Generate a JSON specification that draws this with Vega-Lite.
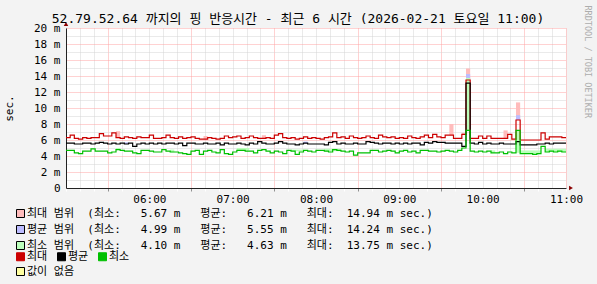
{
  "$schema": "https://vega.github.io/schema/vega-lite/v6.json",
  "width": 500,
  "height": 160,
  "autosize": "none",
  "padding": {"left": 66, "top": 28, "right": 31, "bottom": 96},
  "background": "#F3F3F3",
  "view": {"fill": "#FFFFFF", "stroke": null},
  "config": {"font": "DejaVu Sans Mono, Noto Sans CJK KR"},
  "title": {
    "text": "52.79.52.64 까지의 핑 반응시간 - 최근 6 시간 (2026-02-21 토요일 11:00)",
    "fontSize": 13,
    "fontWeight": "normal",
    "color": "#000000",
    "anchor": "middle",
    "dx": -18,
    "dy": 21,
    "offset": 0
  },
  "datasets": {
    "ping": [
      {"t":"2026-02-21T05:00:00Z","mx":6.3,"av":5.6,"mn":4.7},
      {"t":"2026-02-21T05:03:00Z","mx":6.6,"av":5.6,"mn":4.7},
      {"t":"2026-02-21T05:06:00Z","mx":6.2,"av":5.5,"mn":4.4},
      {"t":"2026-02-21T05:09:00Z","mx":6.1,"av":5.5,"mn":4.3},
      {"t":"2026-02-21T05:12:00Z","mx":6.3,"av":5.6,"mn":4.6},
      {"t":"2026-02-21T05:15:00Z","mx":6.2,"av":5.6,"mn":4.6},
      {"t":"2026-02-21T05:18:00Z","mx":6.3,"av":5.5,"mn":4.9},
      {"t":"2026-02-21T05:21:00Z","mx":6.3,"av":5.6,"mn":4.6},
      {"t":"2026-02-21T05:24:00Z","mx":6.8,"av":5.7,"mn":4.6},
      {"t":"2026-02-21T05:27:00Z","mx":6.5,"av":5.6,"mn":4.6},
      {"t":"2026-02-21T05:30:00Z","mx":6.5,"av":5.5,"mn":4.4},
      {"t":"2026-02-21T05:33:00Z","mx":6.9,"av":5.6,"mn":4.5},
      {"t":"2026-02-21T05:36:00Z","mx":6.3,"av":5.5,"mn":4.8},
      {"t":"2026-02-21T05:39:00Z","mx":6.2,"av":5.6,"mn":4.7},
      {"t":"2026-02-21T05:42:00Z","mx":6.4,"av":5.5,"mn":4.6},
      {"t":"2026-02-21T05:45:00Z","mx":6.3,"av":5.6,"mn":4.6},
      {"t":"2026-02-21T05:48:00Z","mx":6.2,"av":5.2,"mn":4.4},
      {"t":"2026-02-21T05:51:00Z","mx":6.4,"av":5.5,"mn":4.3},
      {"t":"2026-02-21T05:54:00Z","mx":6.3,"av":5.6,"mn":4.7},
      {"t":"2026-02-21T05:57:00Z","mx":6.3,"av":5.5,"mn":4.7},
      {"t":"2026-02-21T06:00:00Z","mx":6.6,"av":5.6,"mn":4.6},
      {"t":"2026-02-21T06:03:00Z","mx":6.2,"av":5.5,"mn":4.5},
      {"t":"2026-02-21T06:06:00Z","mx":6.2,"av":5.6,"mn":4.5},
      {"t":"2026-02-21T06:09:00Z","mx":6.3,"av":5.5,"mn":4.8},
      {"t":"2026-02-21T06:12:00Z","mx":6.6,"av":5.6,"mn":4.6},
      {"t":"2026-02-21T06:15:00Z","mx":6.3,"av":5.6,"mn":4.5},
      {"t":"2026-02-21T06:18:00Z","mx":6.2,"av":5.5,"mn":4.5},
      {"t":"2026-02-21T06:21:00Z","mx":6.4,"av":5.6,"mn":4.4},
      {"t":"2026-02-21T06:24:00Z","mx":6.2,"av":5.3,"mn":4.3},
      {"t":"2026-02-21T06:27:00Z","mx":6.3,"av":5.6,"mn":4.2},
      {"t":"2026-02-21T06:30:00Z","mx":6.4,"av":5.6,"mn":4.6},
      {"t":"2026-02-21T06:33:00Z","mx":6.2,"av":5.5,"mn":4.7},
      {"t":"2026-02-21T06:36:00Z","mx":6.1,"av":5.5,"mn":4.2},
      {"t":"2026-02-21T06:39:00Z","mx":6.1,"av":5.6,"mn":4.6},
      {"t":"2026-02-21T06:42:00Z","mx":6.3,"av":5.5,"mn":4.7},
      {"t":"2026-02-21T06:45:00Z","mx":6.2,"av":5.5,"mn":4.5},
      {"t":"2026-02-21T06:48:00Z","mx":6.1,"av":5.6,"mn":4.4},
      {"t":"2026-02-21T06:51:00Z","mx":6.2,"av":5.4,"mn":4.8},
      {"t":"2026-02-21T06:54:00Z","mx":6.5,"av":5.6,"mn":4.3},
      {"t":"2026-02-21T06:57:00Z","mx":6.3,"av":5.5,"mn":4.2},
      {"t":"2026-02-21T07:00:00Z","mx":6.4,"av":5.5,"mn":4.5},
      {"t":"2026-02-21T07:03:00Z","mx":6.5,"av":5.6,"mn":4.7},
      {"t":"2026-02-21T07:06:00Z","mx":6.2,"av":5.5,"mn":4.7},
      {"t":"2026-02-21T07:09:00Z","mx":6.3,"av":5.4,"mn":4.6},
      {"t":"2026-02-21T07:12:00Z","mx":6.5,"av":5.6,"mn":4.6},
      {"t":"2026-02-21T07:15:00Z","mx":6.3,"av":5.5,"mn":4.4},
      {"t":"2026-02-21T07:18:00Z","mx":6.2,"av":5.8,"mn":4.7},
      {"t":"2026-02-21T07:21:00Z","mx":6.2,"av":5.6,"mn":4.8},
      {"t":"2026-02-21T07:24:00Z","mx":6.3,"av":5.5,"mn":4.6},
      {"t":"2026-02-21T07:27:00Z","mx":6.2,"av":5.5,"mn":4.4},
      {"t":"2026-02-21T07:30:00Z","mx":6.6,"av":5.6,"mn":4.6},
      {"t":"2026-02-21T07:33:00Z","mx":6.8,"av":5.8,"mn":4.5},
      {"t":"2026-02-21T07:36:00Z","mx":6.3,"av":5.6,"mn":4.3},
      {"t":"2026-02-21T07:39:00Z","mx":6.2,"av":5.5,"mn":4.7},
      {"t":"2026-02-21T07:42:00Z","mx":6.3,"av":5.5,"mn":4.6},
      {"t":"2026-02-21T07:45:00Z","mx":6.1,"av":5.4,"mn":4.2},
      {"t":"2026-02-21T07:48:00Z","mx":6.2,"av":5.5,"mn":4.5},
      {"t":"2026-02-21T07:51:00Z","mx":6.4,"av":5.6,"mn":4.7},
      {"t":"2026-02-21T07:54:00Z","mx":6.2,"av":5.5,"mn":4.6},
      {"t":"2026-02-21T07:57:00Z","mx":6.3,"av":5.5,"mn":4.5},
      {"t":"2026-02-21T08:00:00Z","mx":6.2,"av":5.5,"mn":4.7},
      {"t":"2026-02-21T08:03:00Z","mx":6.1,"av":5.5,"mn":4.7},
      {"t":"2026-02-21T08:06:00Z","mx":6.3,"av":5.4,"mn":4.6},
      {"t":"2026-02-21T08:09:00Z","mx":6.4,"av":5.7,"mn":4.5},
      {"t":"2026-02-21T08:12:00Z","mx":6.9,"av":5.8,"mn":4.8},
      {"t":"2026-02-21T08:15:00Z","mx":6.3,"av":5.5,"mn":4.7},
      {"t":"2026-02-21T08:18:00Z","mx":6.4,"av":5.6,"mn":4.6},
      {"t":"2026-02-21T08:21:00Z","mx":6.2,"av":5.5,"mn":4.5},
      {"t":"2026-02-21T08:24:00Z","mx":6.5,"av":5.5,"mn":4.6},
      {"t":"2026-02-21T08:27:00Z","mx":6.3,"av":5.6,"mn":4.1},
      {"t":"2026-02-21T08:30:00Z","mx":6.2,"av":5.5,"mn":4.4},
      {"t":"2026-02-21T08:33:00Z","mx":6.3,"av":5.5,"mn":4.4},
      {"t":"2026-02-21T08:36:00Z","mx":6.5,"av":5.8,"mn":4.4},
      {"t":"2026-02-21T08:39:00Z","mx":6.3,"av":5.7,"mn":4.7},
      {"t":"2026-02-21T08:42:00Z","mx":6.2,"av":5.6,"mn":4.7},
      {"t":"2026-02-21T08:45:00Z","mx":6.6,"av":5.5,"mn":4.5},
      {"t":"2026-02-21T08:48:00Z","mx":6.4,"av":5.6,"mn":4.6},
      {"t":"2026-02-21T08:51:00Z","mx":6.3,"av":5.6,"mn":4.7},
      {"t":"2026-02-21T08:54:00Z","mx":6.4,"av":5.5,"mn":4.6},
      {"t":"2026-02-21T08:57:00Z","mx":6.2,"av":5.6,"mn":4.4},
      {"t":"2026-02-21T09:00:00Z","mx":6.3,"av":5.5,"mn":4.6},
      {"t":"2026-02-21T09:03:00Z","mx":6.2,"av":5.6,"mn":4.7},
      {"t":"2026-02-21T09:06:00Z","mx":6.5,"av":5.5,"mn":4.5},
      {"t":"2026-02-21T09:09:00Z","mx":6.3,"av":5.6,"mn":4.6},
      {"t":"2026-02-21T09:12:00Z","mx":6.2,"av":5.6,"mn":4.4},
      {"t":"2026-02-21T09:15:00Z","mx":6.4,"av":5.4,"mn":4.7},
      {"t":"2026-02-21T09:18:00Z","mx":6.6,"av":5.7,"mn":4.7},
      {"t":"2026-02-21T09:21:00Z","mx":6.3,"av":5.6,"mn":4.6},
      {"t":"2026-02-21T09:24:00Z","mx":6.7,"av":5.8,"mn":4.6},
      {"t":"2026-02-21T09:27:00Z","mx":6.4,"av":5.7,"mn":4.5},
      {"t":"2026-02-21T09:30:00Z","mx":6.3,"av":5.7,"mn":4.6},
      {"t":"2026-02-21T09:33:00Z","mx":6.6,"av":5.6,"mn":4.7},
      {"t":"2026-02-21T09:36:00Z","mx":6.6,"av":5.6,"mn":4.6},
      {"t":"2026-02-21T09:39:00Z","mx":6.2,"av":5.6,"mn":4.5},
      {"t":"2026-02-21T09:42:00Z","mx":6.2,"av":5.6,"mn":4.7},
      {"t":"2026-02-21T09:45:00Z","mx":6.7,"av":5.2,"mn":5.0},
      {"t":"2026-02-21T09:48:00Z","mx":13.5,"av":13.1,"mn":7.2},
      {"t":"2026-02-21T09:51:00Z","mx":6.2,"av":5.6,"mn":4.6},
      {"t":"2026-02-21T09:54:00Z","mx":6.2,"av":5.5,"mn":4.5},
      {"t":"2026-02-21T09:57:00Z","mx":6.5,"av":5.7,"mn":4.6},
      {"t":"2026-02-21T10:00:00Z","mx":6.2,"av":5.5,"mn":4.5},
      {"t":"2026-02-21T10:03:00Z","mx":6.5,"av":5.6,"mn":4.6},
      {"t":"2026-02-21T10:06:00Z","mx":6.2,"av":5.5,"mn":4.4},
      {"t":"2026-02-21T10:09:00Z","mx":6.2,"av":5.5,"mn":4.4},
      {"t":"2026-02-21T10:12:00Z","mx":6.2,"av":5.6,"mn":4.5},
      {"t":"2026-02-21T10:15:00Z","mx":6.2,"av":5.5,"mn":4.3},
      {"t":"2026-02-21T10:18:00Z","mx":6.7,"av":5.5,"mn":4.5},
      {"t":"2026-02-21T10:21:00Z","mx":6.1,"av":5.5,"mn":4.4},
      {"t":"2026-02-21T10:24:00Z","mx":8.5,"av":5.8,"mn":7.2},
      {"t":"2026-02-21T10:27:00Z","mx":6.0,"av":5.4,"mn":4.3},
      {"t":"2026-02-21T10:30:00Z","mx":6.0,"av":5.4,"mn":4.3},
      {"t":"2026-02-21T10:33:00Z","mx":6.0,"av":5.4,"mn":4.3},
      {"t":"2026-02-21T10:36:00Z","mx":6.0,"av":5.4,"mn":4.2},
      {"t":"2026-02-21T10:39:00Z","mx":6.0,"av":5.5,"mn":4.3},
      {"t":"2026-02-21T10:42:00Z","mx":6.9,"av":5.5,"mn":5.2},
      {"t":"2026-02-21T10:45:00Z","mx":6.1,"av":5.6,"mn":4.5},
      {"t":"2026-02-21T10:48:00Z","mx":6.4,"av":5.5,"mn":4.6},
      {"t":"2026-02-21T10:51:00Z","mx":6.4,"av":5.6,"mn":4.5},
      {"t":"2026-02-21T10:54:00Z","mx":6.4,"av":5.6,"mn":4.6},
      {"t":"2026-02-21T10:57:00Z","mx":6.3,"av":5.6,"mn":4.5},
      {"t":"2026-02-21T11:00:00Z","mx":6.3,"av":5.6,"mn":4.5}
    ],
    "ranges": [
      {"t":"2026-02-21T05:36:00Z","t2":"2026-02-21T05:39:00Z","lo":6.3,"hi":7.1,"s":"최대 범위"},
      {"t":"2026-02-21T06:39:00Z","t2":"2026-02-21T06:42:00Z","lo":6.1,"hi":6.5,"s":"최대 범위"},
      {"t":"2026-02-21T07:21:00Z","t2":"2026-02-21T07:24:00Z","lo":6.2,"hi":6.6,"s":"최대 범위"},
      {"t":"2026-02-21T09:36:00Z","t2":"2026-02-21T09:39:00Z","lo":6.6,"hi":8.0,"s":"최대 범위"},
      {"t":"2026-02-21T09:45:00Z","t2":"2026-02-21T09:48:00Z","lo":6.7,"hi":6.9,"s":"최대 범위"},
      {"t":"2026-02-21T09:48:00Z","t2":"2026-02-21T09:51:00Z","lo":13.5,"hi":14.94,"s":"최대 범위"},
      {"t":"2026-02-21T10:15:00Z","t2":"2026-02-21T10:18:00Z","lo":6.2,"hi":7.2,"s":"최대 범위"},
      {"t":"2026-02-21T10:24:00Z","t2":"2026-02-21T10:27:00Z","lo":8.5,"hi":10.7,"s":"최대 범위"},
      {"t":"2026-02-21T05:42:00Z","t2":"2026-02-21T05:45:00Z","lo":5.5,"hi":5.7,"s":"평균 범위"},
      {"t":"2026-02-21T07:51:00Z","t2":"2026-02-21T07:54:00Z","lo":5.6,"hi":5.8,"s":"평균 범위"},
      {"t":"2026-02-21T09:48:00Z","t2":"2026-02-21T09:51:00Z","lo":13.1,"hi":14.24,"s":"평균 범위"},
      {"t":"2026-02-21T10:24:00Z","t2":"2026-02-21T10:27:00Z","lo":8.5,"hi":9.1,"s":"평균 범위"},
      {"t":"2026-02-21T05:36:00Z","t2":"2026-02-21T05:39:00Z","lo":4.8,"hi":5.0,"s":"최소 범위"},
      {"t":"2026-02-21T06:15:00Z","t2":"2026-02-21T06:18:00Z","lo":4.5,"hi":4.8,"s":"최소 범위"},
      {"t":"2026-02-21T07:03:00Z","t2":"2026-02-21T07:12:00Z","lo":4.7,"hi":5.0,"s":"최소 범위"},
      {"t":"2026-02-21T07:42:00Z","t2":"2026-02-21T07:51:00Z","lo":4.6,"hi":4.8,"s":"최소 범위"},
      {"t":"2026-02-21T08:06:00Z","t2":"2026-02-21T08:18:00Z","lo":4.6,"hi":4.9,"s":"최소 범위"},
      {"t":"2026-02-21T09:48:00Z","t2":"2026-02-21T09:51:00Z","lo":7.2,"hi":13.75,"s":"최소 범위"},
      {"t":"2026-02-21T10:06:00Z","t2":"2026-02-21T10:09:00Z","lo":4.4,"hi":4.7,"s":"최소 범위"},
      {"t":"2026-02-21T10:24:00Z","t2":"2026-02-21T10:27:00Z","lo":4.4,"hi":7.2,"s":"최소 범위"},
      {"t":"2026-02-21T10:27:00Z","t2":"2026-02-21T10:42:00Z","lo":4.3,"hi":4.7,"s":"최소 범위"},
      {"t":"2026-02-21T10:45:00Z","t2":"2026-02-21T11:00:00Z","lo":4.5,"hi":4.9,"s":"최소 범위"}
    ]
  },
  "layer": [
    {
      "data": {"name": "ranges"},
      "mark": {"type": "rect"},
      "encoding": {
        "x": {
          "field": "t",
          "type": "temporal",
          "scale": {"type": "utc", "domain": [1771650000000, 1771671600000]},
          "axis": {
            "values": [1771650000000,1771650600000,1771651200000,1771651800000,1771652400000,1771653000000,1771653600000,1771654200000,1771654800000,1771655400000,1771656000000,1771656600000,1771657200000,1771657800000,1771658400000,1771659000000,1771659600000,1771660200000,1771660800000,1771661400000,1771662000000,1771662600000,1771663200000,1771663800000,1771664400000,1771665000000,1771665600000,1771666200000,1771666800000,1771667400000,1771668000000,1771668600000,1771669200000,1771669800000,1771670400000,1771671000000,1771671600000],
            "tickCount": 200,
            "title": "RRDTOOL / TOBI OETIKER",
            "titleAngle": 90,
            "titleAlign": "left",
            "titleBaseline": "middle",
            "titleX": 521,
            "titleY": -183,
            "titleFontSize": 8.5,
            "titleFontWeight": "normal",
            "titleColor": "#ADADAD",
            "labelExpr": "utcminutes(datum.value) == 0 && utchours(datum.value) > 5 ? utcFormat(datum.value, '%H:%M') : ''",
            "labelFontSize": 11,
            "labelColor": "#000000",
            "labelPadding": 2,
            "labelOverlap": false,
            "labelFlush": false,
            "grid": true,
            "gridDash": [1, 1],
            "gridColor": {"condition": {"test": "utcminutes(datum.value) == 30 || utchours(datum.value) == 11", "value": "#FFA4A4"}, "value": "#D4D4D4"},
            "ticks": true,
            "tickSize": 3,
            "tickColor": {"condition": {"test": "utcminutes(datum.value) == 30", "value": "#909090"}, "value": "#FFFFFF"},
            "domainColor": "#222222"
          }
        },
        "x2": {"field": "t2"},
        "y": {
          "field": "lo",
          "type": "quantitative",
          "scale": {"domain": [0, 20], "nice": false, "zero": true},
          "axis": {
            "values": [0,1,2,3,4,5,6,7,8,9,10,11,12,13,14,15,16,17,18,19,20],
            "tickCount": 200,
            "title": "sec.",
            "titleFontSize": 11,
            "titleFontWeight": "normal",
            "titleColor": "#000000",
            "titlePadding": 19,
            "labelExpr": "datum.value % 2 ? '' : (datum.value == 0 ? '0' : datum.value + ' m')",
            "labelFontSize": 11,
            "labelColor": "#000000",
            "labelPadding": 6,
            "labelOverlap": false,
            "labelFlush": false,
            "ticks": false,
            "grid": true,
            "gridDash": [1, 1],
            "gridColor": {"condition": {"test": "datum.value % 2 == 0", "value": "#FFA4A4"}, "value": "#D4D4D4"},
            "domainColor": "#222222"
          }
        },
        "y2": {"field": "hi"},
        "fill": {
          "field": "s",
          "type": "nominal",
          "scale": {"domain": ["최대 범위", "평균 범위", "최소 범위"], "range": ["#FFBCBC", "#BCBCFF", "#BCFFBC"]},
          "legend": {
            "orient": "none",
            "legendX": -51,
            "legendY": 180,
            "title": null,
            "padding": 0,
            "symbolType": "square",
            "symbolSize": 64,
            "symbolStrokeColor": "#000000",
            "symbolStrokeWidth": 1,
            "rowPadding": 3,
            "labelOffset": 1,
            "labelFontSize": 11,
            "labelColor": "#000000",
            "labelLimit": 600,
            "labelExpr": "datum.value == '최대 범위' ? '최대 범위\u00a0\u00a0(최소:\u00a0\u00a0\u00a05.67 m\u00a0\u00a0\u00a0평균:\u00a0\u00a0\u00a06.21 m\u00a0\u00a0\u00a0최대:\u00a0\u00a014.94 m sec.)' : datum.value == '평균 범위' ? '평균 범위\u00a0\u00a0(최소:\u00a0\u00a0\u00a04.99 m\u00a0\u00a0\u00a0평균:\u00a0\u00a0\u00a05.55 m\u00a0\u00a0\u00a0최대:\u00a0\u00a014.24 m sec.)' : '최소 범위\u00a0\u00a0(최소:\u00a0\u00a0\u00a04.10 m\u00a0\u00a0\u00a0평균:\u00a0\u00a0\u00a04.63 m\u00a0\u00a0\u00a0최대:\u00a0\u00a013.75 m sec.)'"
          }
        },
        "opacity": {
          "datum": "값이 없음",
          "scale": {"domain": ["값이 없음"], "range": [1]},
          "legend": {
            "orient": "none",
            "legendX": -51,
            "legendY": 238,
            "title": null,
            "padding": 0,
            "symbolType": "square",
            "symbolSize": 64,
            "symbolFillColor": "#FFFFA0",
            "symbolStrokeColor": "#000000",
            "symbolStrokeWidth": 1,
            "labelOffset": 1,
            "labelFontSize": 11,
            "labelColor": "#000000",
            "labelLimit": 600,
            "encode": {"symbols": {"update": {"fill": {"value": "#FFFFA0"}, "stroke": {"value": "#000000"}, "strokeWidth": {"value": 1}, "opacity": {"value": 1}}}}
          }
        }
      }
    },
    {
      "data": {"name": "ping"},
      "mark": {"type": "line", "interpolate": "step-after", "strokeWidth": 1.2},
      "encoding": {
        "x": {"field": "t", "type": "temporal"},
        "y": {"field": "mx", "type": "quantitative"},
        "color": {
          "datum": "최대",
          "scale": {"domain": ["최대", "평균", "최소"], "range": ["#CC0000", "#000000", "#00C000"]},
          "legend": {
            "orient": "none",
            "legendX": -51,
            "legendY": 223,
            "title": null,
            "padding": 0,
            "direction": "horizontal",
            "columns": 3,
            "columnPadding": 7,
            "symbolType": "square",
            "symbolSize": 64,
            "symbolStrokeColor": "#000000",
            "symbolStrokeWidth": 1,
            "labelOffset": 1,
            "labelFontSize": 11,
            "labelColor": "#000000",
            "labelLimit": 600,
            "encode": {"symbols": {"update": {"fill": {"scale": "color", "field": "value"}, "stroke": {"value": "#000000"}, "strokeWidth": {"value": 1}, "opacity": {"value": 1}}}}
          }
        }
      }
    },
    {
      "data": {"name": "ping"},
      "mark": {"type": "line", "interpolate": "step-after", "strokeWidth": 1.2},
      "encoding": {
        "x": {"field": "t", "type": "temporal"},
        "y": {"field": "av", "type": "quantitative"},
        "color": {"datum": "평균"}
      }
    },
    {
      "data": {"name": "ping"},
      "mark": {"type": "line", "interpolate": "step-after", "strokeWidth": 1.2},
      "encoding": {
        "x": {"field": "t", "type": "temporal"},
        "y": {"field": "mn", "type": "quantitative"},
        "color": {"datum": "최소"}
      }
    },
    {
      "data": {"values": [{"edge": "y"}]},
      "mark": {"type": "point", "shape": "triangle-up", "filled": true, "size": 20, "color": "#8B0000", "opacity": 1, "yOffset": -4},
      "encoding": {
        "x": {"datum": {"year": 2026, "month": 2, "date": 21, "hours": 5, "utc": true}, "type": "temporal"},
        "y": {"datum": 20, "type": "quantitative"}
      }
    },
    {
      "data": {"values": [{"edge": "x"}]},
      "mark": {"type": "point", "shape": "triangle-right", "filled": true, "size": 20, "color": "#8B0000", "opacity": 1, "xOffset": 5},
      "encoding": {
        "x": {"datum": {"year": 2026, "month": 2, "date": 21, "hours": 11, "utc": true}, "type": "temporal"},
        "y": {"datum": 0, "type": "quantitative"}
      }
    }
  ]
}
